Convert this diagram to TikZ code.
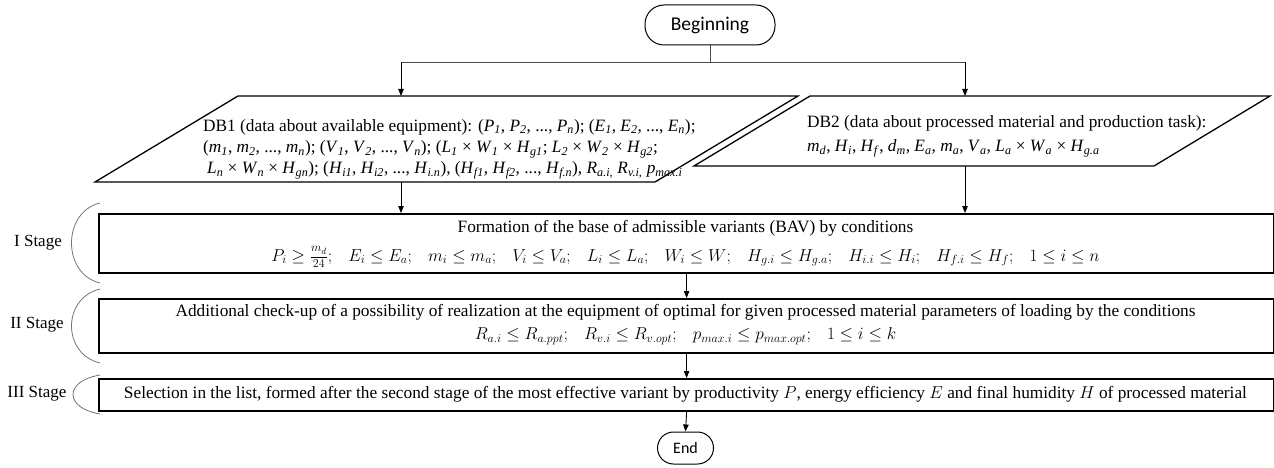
\documentclass[tikz,border=0pt]{standalone}
\usepackage{fontspec}
\setmainfont{Liberation Serif}
\newfontfamily\calibfont{Carlito}
\usetikzlibrary{arrows.meta}
\newcommand{\iv}[2]{\textit{#1}\textsubscript{\textit{#2}}}
\newcommand{\sepm}{;\hspace{0.72em}}
\begin{document}
\begin{tikzpicture}[x=1pt,y=-1pt,
  txt/.style={font=\fontsize{17.3}{21}\selectfont, inner sep=0pt},
  mathtxt/.style={font=\fontsize{18.5}{21}\selectfont, inner sep=0pt},
  stagebox/.style={draw, line width=2.2pt, minimum width=1175pt, anchor=north west, inner sep=0pt},
  term/.style={draw, line width=1pt, rounded corners=16pt, font=\calibfont\fontsize{16}{18}\selectfont},
  conn/.style={line width=0.9pt, -{Triangle[length=7pt,width=5.5pt]}},
  plain/.style={line width=0.8pt, draw=black!70},
  brak/.style={draw=black!55, line width=0.8pt},
  lbl/.style={font=\fontsize{17}{18}\selectfont, inner sep=0pt},
  para/.style={draw, line width=1.3pt}
]
\useasboundingbox (0,0) rectangle (1274,468);

% terminals
\node[term, minimum width=130pt, minimum height=40pt, font=\calibfont\fontsize{19.5}{21}\selectfont, rounded corners=19pt] (beg) at (710,25) {Beginning};
\node[term, minimum width=56pt, minimum height=32pt] (fin) at (685.5,448) {End};

% data parallelograms
\draw[para] (95,182) -- (655,182) -- (798,96) -- (238,96) -- cycle;
\draw[para] (694,166) -- (1154,166) -- (1270,96) -- (810,96) -- cycle;
\coordinate (db1in) at (401,96);
\coordinate (db1out) at (401,182);
\coordinate (db2in) at (965,96);
\coordinate (db2out) at (965,166);

\node[txt, anchor=west] (d1a) at (203,127) {DB1 (data about available equipment): (\iv{P}{1}, \iv{P}{2}, ..., \iv{P}{n}); (\iv{E}{1}, \iv{E}{2}, ..., \iv{E}{n});};
\node[txt, anchor=west] (d1b) at (203,149) {(\iv{m}{1}, \iv{m}{2}, ..., \iv{m}{n}); (\iv{V}{1}, \iv{V}{2}, ..., \iv{V}{n}); (\iv{L}{1} × \iv{W}{1} × \iv{H}{g1}; \iv{L}{2} × \iv{W}{2} × \iv{H}{g2};};
\node[txt, anchor=west] (d1c) at (207,170) {\iv{L}{n} × \iv{W}{n} × \iv{H}{gn}); (\iv{H}{i1}, \iv{H}{i2}, ..., \iv{H}{i.n}), (\iv{H}{f1}, \iv{H}{f2}, ..., \iv{H}{f.n}), \iv{R}{a.i,} \iv{R}{v.i,} \iv{p}{max.i}};

\node[txt, anchor=west] (d2a) at (807,123) {DB2 (data about processed material and production task):};
\node[txt, anchor=west] (d2b) at (807,148) {\iv{m}{d}, \iv{H}{i}, \iv{H}{f}, \iv{d}{m}, \iv{E}{a}, \iv{m}{a}, \iv{V}{a}, \iv{L}{a} × \iv{W}{a} × \iv{H}{g.a}};

% stage boxes
\node[stagebox, minimum height=59pt] (s1) at (98,213) {};
\node[stagebox, minimum height=54pt] (s2) at (98,298) {};
\node[stagebox, minimum height=32pt] (s3) at (98,378) {};

\node[txt] (t1a) at (685.5,228) {Formation of the base of admissible variants (BAV) by conditions};
\node[mathtxt] (t1b) at (685.5,257) {$P_i \geq \frac{m_d\rule[-4.5pt]{0pt}{4.5pt}}{\rule{0pt}{9pt}24}\sepm E_i \leq E_a\sepm m_i \leq m_a\sepm V_i \leq V_a\sepm L_i \leq L_a\sepm W_i \leq W\sepm H_{g.i} \leq H_{g.a}\sepm H_{i.i} \leq H_i\sepm H_{f.i} \leq H_f\sepm 1 \leq i \leq n$};
\node[txt] (t2a) at (685.5,312) {Additional check-up of a possibility of realization at the equipment of optimal for given processed material parameters of loading by the conditions};
\node[mathtxt] (t2b) at (685.5,336) {$R_{a.i} \leq R_{a.ppt}\sepm R_{v.i} \leq R_{v.opt}\sepm p_{max.i} \leq p_{max.opt}\sepm 1 \leq i \leq k$};
\node[txt] (t3) at (685.5,394) {Selection in the list, formed after the second stage of the most effective variant by productivity $P$, energy efficiency $E$ and final humidity $H$ of processed material};

% stage labels and brackets
\node[lbl] (l1) at (38,243) {I Stage};
\node[lbl] (l2) at (37,325) {II Stage};
\node[lbl] (l3) at (37,394) {III Stage};
\draw[brak] (100,203) .. controls (62,212) and (62,274) .. (100,283);
\draw[brak] (100,289) .. controls (62,298) and (62,354) .. (100,363);
\draw[brak] (100,375) .. controls (64,381) and (64,408) .. (100,414);

% connectors
\coordinate (split) at (710,62);
\coordinate (lt) at (401,62);
\coordinate (rt) at (965,62);
\draw[plain] (beg.south) -- (split);
\draw[plain] (lt) -- (rt);
\draw[conn] (lt) -- (db1in);
\draw[conn] (rt) -- (db2in);
\draw[conn] (db1out) -- (s1.north -| db1out);
\draw[conn] (db2out) -- (s1.north -| db2out);
\draw[conn] (s1.south) -- (s2.north);
\draw[conn] (s2.south) -- (s3.north);
\draw[conn] (s3.south) -- (fin.north);
\end{tikzpicture}
\end{document}
